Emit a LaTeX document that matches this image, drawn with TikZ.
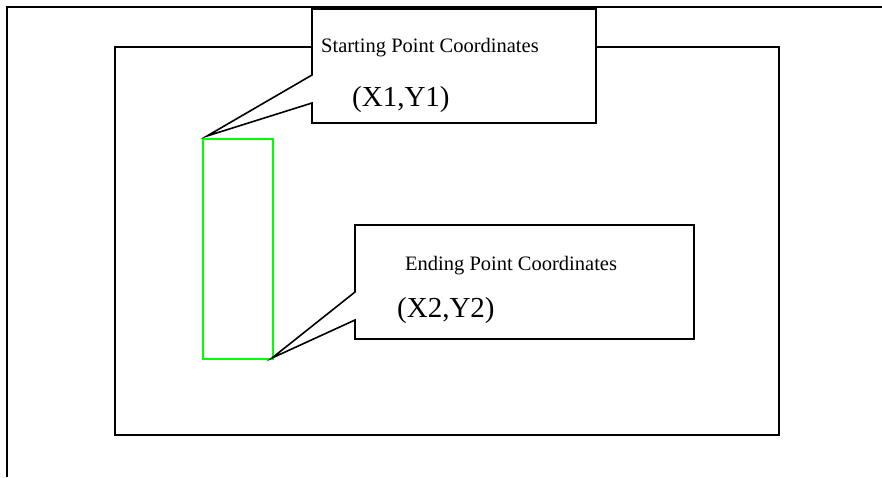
\documentclass[tikz,border=0pt]{standalone}
\usepackage{fontspec}
\setmainfont{Liberation Serif}
\begin{document}
\begin{tikzpicture}[x=1pt,y=-1pt,
  frame/.style={draw=black,line width=1.8pt},
  callout/.style={draw=black,fill=white,line width=1.6pt,line join=miter},
  target/.style={draw={rgb,255:red,0;green,255;blue,0},line width=1.8pt},
  small/.style={anchor=base west,inner sep=0pt,font=\fontsize{20.5}{24}\selectfont},
  big/.style={anchor=base west,inner sep=0pt,font=\fontsize{29}{34}\selectfont}]
\useasboundingbox (0,0) rectangle (882,477);
% page frame: top and left edges only
\draw[frame] (882,7) -- (7,7) -- (7,477);
% drawing area
\draw[frame] (115,47) rectangle (779,435);
% selected region
\coordinate (selNW) at (203,139);
\coordinate (selSE) at (273,359);
\draw[target] (selNW) rectangle (selSE);
\coordinate (tipA) at (207,136);
\coordinate (tipB) at (272,358);
% callout for the starting point
\draw[callout] (312,9) -- (596,9) -- (596,123) -- (312,123) -- (312,103) -- (tipA) -- (312,75) -- cycle;
\node[small] (startlbl) at (321,52) {Starting Point Coordinates};
\node[big] (startxy) at (352,106) {(X1,Y1)};
% callout for the ending point
\draw[callout] (355,225) -- (694,225) -- (694,339) -- (355,339) -- (355,320) -- (tipB) -- (355,292) -- cycle;
\node[small] (endlbl) at (405,270) {Ending Point Coordinates};
\node[big] (endxy) at (397,317) {(X2,Y2)};
\end{tikzpicture}
\end{document}
